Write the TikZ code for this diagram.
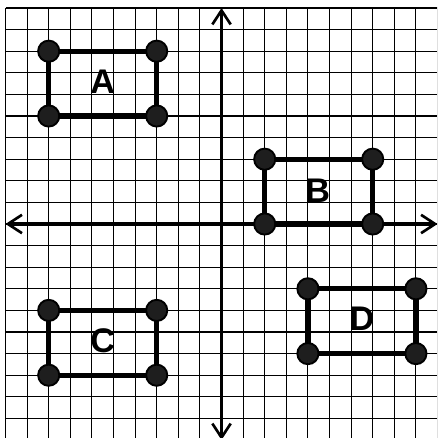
\documentclass[tikz,border=0pt]{standalone}
\usepackage{fontspec}
\setmainfont{Liberation Sans}
\usetikzlibrary{arrows.meta}
\definecolor{dotfill}{HTML}{1E1E1E}
\tikzset{
  gridline/.style={line width=1.4pt, black},
  axisline/.style={line width=4.5pt, black, {Straight Barb[length=6.5mm,width=8.5mm,line width=3.5pt]}-{Straight Barb[length=6.5mm,width=8.5mm,line width=3.5pt]}},
  rectline/.style={line width=7pt, black},
  dot/.style={circle, draw=black, line width=2.5pt, fill=dotfill, minimum size=0.98cm, inner sep=0pt},
  letter/.style={font=\fontsize{45}{45}\selectfont\bfseries, inner sep=0pt}
}
\begin{document}
\begin{tikzpicture}
\useasboundingbox (-10.255,-9.907) rectangle (9.977,10.37);
\clip (-10.255,-9.907) rectangle (9.977,10.37);
\fill[white] (-10.255,-9.907) rectangle (9.977,10.37);
\draw[gridline] (-10,-10) grid (10,10);
% axes
\coordinate (xl) at (-10,0);
\coordinate (xr) at (10,0);
\coordinate (yb) at (0,-10);
\coordinate (yt) at (0,10);
\draw[axisline] (xl) -- (xr);
\draw[axisline] (yb) -- (yt);
% rectangle A
\coordinate (A1) at (-8,8); \coordinate (A2) at (-3,8);
\coordinate (A3) at (-3,5); \coordinate (A4) at (-8,5);
\draw[rectline] (A1) -- (A2) -- (A3) -- (A4) -- cycle;
% rectangle B
\coordinate (B1) at (2,3); \coordinate (B2) at (7,3);
\coordinate (B3) at (7,0); \coordinate (B4) at (2,0);
\draw[rectline] (B1) -- (B2) -- (B3) -- (B4) -- cycle;
% rectangle C
\coordinate (C1) at (-8,-4); \coordinate (C2) at (-3,-4);
\coordinate (C3) at (-3,-7); \coordinate (C4) at (-8,-7);
\draw[rectline] (C1) -- (C2) -- (C3) -- (C4) -- cycle;
% rectangle D
\coordinate (D1) at (4,-3); \coordinate (D2) at (9,-3);
\coordinate (D3) at (9,-6); \coordinate (D4) at (4,-6);
\draw[rectline] (D1) -- (D2) -- (D3) -- (D4) -- cycle;
% dots
\foreach \r in {A,B,C,D}{
  \foreach \i in {1,2,3,4}{
    \node[dot] (\r\i dot) at (\r\i) {};
  }
}
% labels
\node[letter] (LA) at (-5.5,6.6) {A};
\node[letter] (LB) at (4.45,1.55) {B};
\node[letter] (LC) at (-5.5,-5.4) {C};
\node[letter] (LD) at (6.5,-4.4) {D};
\end{tikzpicture}
\end{document}
